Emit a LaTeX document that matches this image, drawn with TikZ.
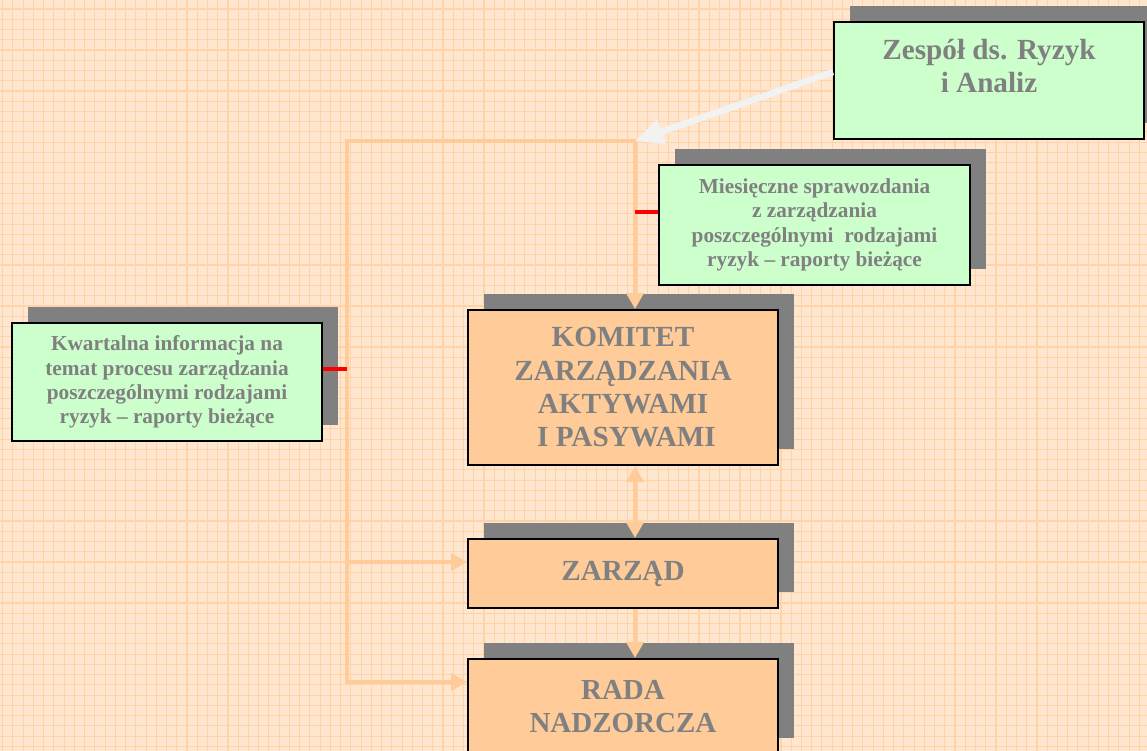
\documentclass[tikz,border=0pt]{standalone}
\usepackage{fontspec}
\setmainfont{Liberation Serif}
\usetikzlibrary{arrows.meta,calc,shadows}
\definecolor{bgpeach}{RGB}{255,230,206}
\definecolor{gridor}{RGB}{255,211,168}
\definecolor{boxgreen}{RGB}{204,255,204}
\definecolor{boxorange}{RGB}{255,204,153}
\definecolor{shadowgray}{RGB}{128,128,128}
\definecolor{txtgray}{RGB}{128,128,128}
\definecolor{connorange}{RGB}{255,204,153}
\definecolor{arrowwhite}{RGB}{242,242,242}
\definecolor{tickred}{RGB}{255,0,0}
\begin{document}
\begin{tikzpicture}[x=1pt,y=-1pt,
  box/.style={draw=black,line width=2pt,inner sep=0pt,text=txtgray,align=center,
    drop shadow={shadow xshift=16pt,shadow yshift=16pt,fill=shadowgray,opacity=1}},
  greenbox/.style={box,fill=boxgreen},
  orangebox/.style={box,fill=boxorange},
  smallfont/.style={font=\fontsize{21.3}{24.4}\selectfont\bfseries},
  bigfont/.style={font=\fontsize{29.2}{33.3}\selectfont\bfseries},
  conn/.style={draw=connorange,line width=4.7pt,line join=miter},
  tipo/.tip={Triangle[length=16pt,width=17pt]},
  redtick/.style={draw=tickred,line width=4.4pt},
  bigarrow/.style={draw=arrowwhite,line width=6.5pt,-{Triangle[length=28pt,width=24pt]}}
]
\useasboundingbox (0,0) rectangle (1147,751);
\clip (0,0) rectangle (1147,751);
\fill[bgpeach] (0,0) rectangle (1147,751);
\foreach \i in {0,...,112} \draw[gridor,line width=1.1pt] ({2.7+10.24*\i},0) -- ++(0,751);
\foreach \i in {1,...,74} \draw[gridor,line width=1.1pt] (0,{-1.2+10.24*\i}) -- ++(1147,0);

% boxes
\node[greenbox,minimum width=310pt,minimum height=117pt] (zespol) at (989,80.5) {};
\node[txtgray,font=\fontsize{29.2}{33}\selectfont\bfseries,align=center,inner sep=0pt] (zespoltxt) at (989,66.5) {Zespół ds. Ryzyk\\i Analiz};
\node[greenbox,smallfont,minimum width=311pt,minimum height=120pt] (mies) at (814.5,225)
  {Miesięczne sprawozdania\\z zarządzania\\poszczególnymi\ \ rodzajami\\ryzyk – raporty bieżące};
\node[greenbox,smallfont,minimum width=310pt,minimum height=118pt] (kwart) at (167,382)
  {Kwartalna informacja na\\temat procesu zarządzania\\poszczególnymi rodzajami\\ryzyk – raporty bieżące};
\node[orangebox,bigfont,minimum width=310pt,minimum height=155pt] (komitet) at (623,387.5)
  {KOMITET\\ZARZĄDZANIA\\AKTYWAMI\\\hspace{7pt}I PASYWAMI};
\node[orangebox,bigfont,minimum width=310pt,minimum height=69pt] (zarzad) at (623,573.5)
  {\raisebox{4pt}{ZARZĄD}};
\node[orangebox,font=\fontsize{29}{33}\selectfont\bfseries,minimum width=310pt,minimum height=95pt] (rada) at (623,706.5)
  {RADA\\NADZORCZA};

% connector corners
\coordinate (tl) at (347,141);
\coordinate (tr) at (635,141);
\coordinate (bl) at (347,682);
\coordinate (zl) at (347,562);
\coordinate (rk) at (347,369);
\coordinate (rm) at (635,212);

% orange connectors
\draw[conn,{tipo}-{tipo}] (komitet.north -| tr) -- (tr) -- (tl) -- (bl) -- (rada.west |- bl);
\draw[conn,-{tipo}] (zl) -- (zarzad.west |- zl);
\draw[conn,{tipo}-{tipo}] (komitet.south -| tr) -- (zarzad.north -| tr);
\draw[conn,-{tipo}] (zarzad.south -| tr) -- (rada.north -| tr);

% red ticks
\draw[redtick] (kwart.east |- rk) -- (rk);
\draw[redtick] (rm) -- (mies.west |- rm);

% white arrow
\draw[bigarrow] ($(zespol.west)+(0,-8.5)$) -- (tr);
\end{tikzpicture}
\end{document}
